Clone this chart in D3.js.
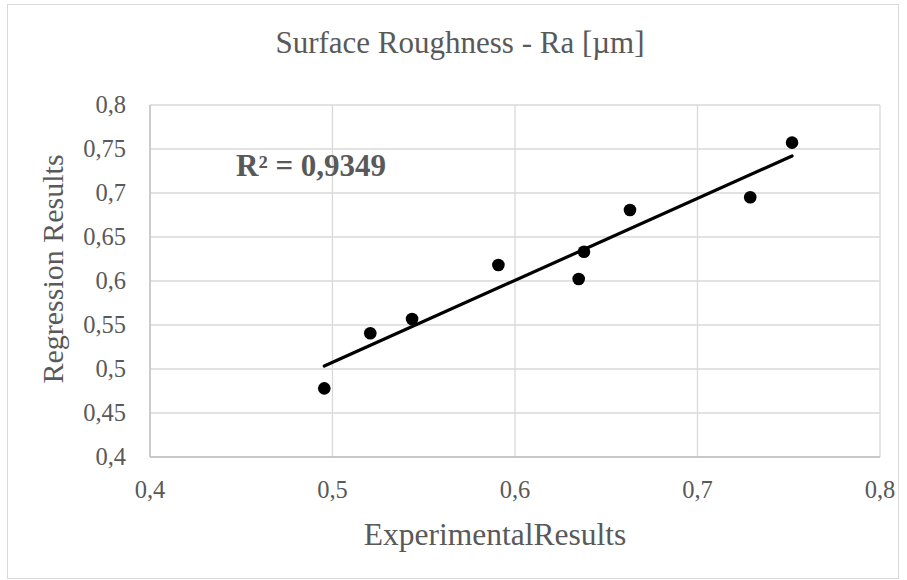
<!DOCTYPE html>
<html>
<head>
<meta charset="utf-8">
<script src="https://cdn.jsdelivr.net/npm/d3@7"></script>
<style>
  body { margin: 0; background: #fff; }
  text { font-family: "Liberation Serif", "Times New Roman", serif; fill: #595959; }
</style>
</head>
<body>
<svg id="chart" width="907" height="580"></svg>
<script>
// Data
const experimental = [0.4955, 0.5207, 0.5436, 0.5909, 0.6349, 0.6378, 0.6630, 0.7289, 0.7518];
const regression   = [0.478, 0.5406, 0.5568, 0.6182, 0.6023, 0.6333, 0.6807, 0.6951, 0.7572];
const xTicks = [0.4, 0.5, 0.6, 0.7, 0.8];
const yTicks = [0.4, 0.45, 0.5, 0.55, 0.6, 0.65, 0.7, 0.75, 0.8];
const chartTitle = "Surface Roughness - Ra [µm]";
const xTitle = "ExperimentalResults";
const yTitle = "Regression Results";
const r2Label = "R² = 0,9349";

const svg = d3.select("#chart");

// chart area border
svg.append("rect")
  .attr("x", 7.5).attr("y", 4.5)
  .attr("width", 891).attr("height", 574)
  .attr("fill", "#fff")
  .attr("stroke", "#d9d9d9");

const x = d3.scaleLinear().domain([0.4, 0.8]).range([150, 880]);
const y = d3.scaleLinear().domain([0.4, 0.8]).range([457, 105]);

const fmt = d => String(+d.toFixed(2)).replace(".", ",");

// gridlines
svg.append("g")
  .selectAll("line")
  .data(yTicks)
  .enter().append("line")
  .attr("x1", x(0.4)).attr("x2", x(0.8))
  .attr("y1", d => y(d)).attr("y2", d => y(d))
  .attr("stroke", "#d9d9d9").attr("stroke-width", 1.3);

svg.append("g")
  .selectAll("line")
  .data(xTicks)
  .enter().append("line")
  .attr("y1", y(0.4)).attr("y2", y(0.8))
  .attr("x1", d => x(d)).attr("x2", d => x(d))
  .attr("stroke", "#d9d9d9").attr("stroke-width", 1.3);

// axis lines
svg.append("line")
  .attr("x1", x(0.4)).attr("x2", x(0.8))
  .attr("y1", y(0.4)).attr("y2", y(0.4))
  .attr("stroke", "#bfbfbf").attr("stroke-width", 1.3);
svg.append("line")
  .attr("x1", x(0.4)).attr("x2", x(0.4))
  .attr("y1", y(0.4)).attr("y2", y(0.8))
  .attr("stroke", "#bfbfbf").attr("stroke-width", 1.3);

// tick labels
svg.append("g")
  .selectAll("text")
  .data(yTicks)
  .enter().append("text")
  .attr("x", 126)
  .attr("y", d => y(d))
  .attr("dy", "0.34em")
  .attr("text-anchor", "end")
  .style("font-size", "24.5px")
  .text(fmt);

svg.append("g")
  .selectAll("text")
  .data(xTicks)
  .enter().append("text")
  .attr("x", d => x(d))
  .attr("y", 498)
  .attr("text-anchor", "middle")
  .style("font-size", "24.5px")
  .text(fmt);

// linear trendline (least squares)
const mx = d3.mean(experimental), my = d3.mean(regression);
const slope = d3.sum(experimental, (v, i) => (v - mx) * (regression[i] - my)) /
              d3.sum(experimental, v => (v - mx) * (v - mx));
const intercept = my - slope * mx;
const xMin = d3.min(experimental), xMax = d3.max(experimental);

svg.append("line")
  .attr("x1", x(xMin)).attr("y1", y(slope * xMin + intercept))
  .attr("x2", x(xMax)).attr("y2", y(slope * xMax + intercept))
  .attr("stroke", "#000").attr("stroke-width", 3.2)
  .attr("stroke-linecap", "round");

// points
svg.append("g")
  .selectAll("circle")
  .data(experimental)
  .enter().append("circle")
  .attr("cx", d => x(d))
  .attr("cy", (d, i) => y(regression[i]))
  .attr("r", 6.3)
  .attr("fill", "#000");

// R² label
svg.append("text")
  .attr("x", 236).attr("y", 176)
  .style("font-size", "31px")
  .style("font-weight", "bold")
  .text(r2Label);

// titles
svg.append("text")
  .attr("x", 460).attr("y", 53)
  .attr("text-anchor", "middle")
  .style("font-size", "31px")
  .text(chartTitle);

svg.append("text")
  .attr("x", 495).attr("y", 545)
  .attr("text-anchor", "middle")
  .style("font-size", "31.5px")
  .text(xTitle);

svg.append("text")
  .attr("transform", "translate(63,269) rotate(-90)")
  .attr("text-anchor", "middle")
  .style("font-size", "30px")
  .text(yTitle);
</script>
</body>
</html>
